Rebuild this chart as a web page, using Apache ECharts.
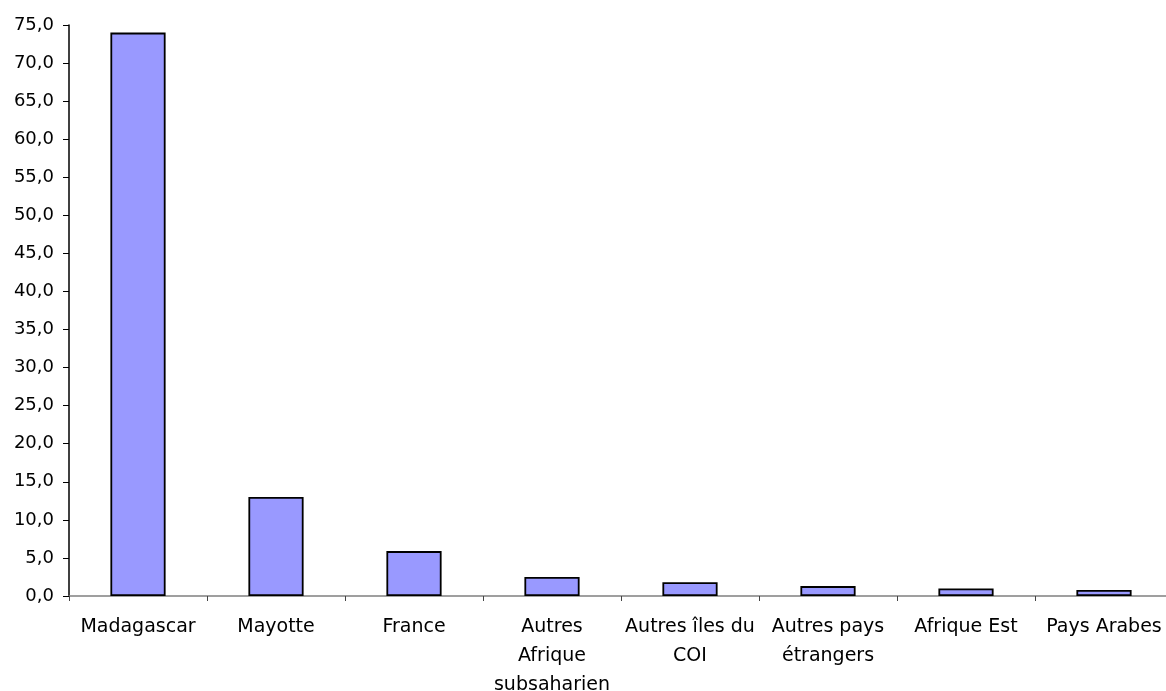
<!DOCTYPE html>
<html>
<head>
<meta charset="utf-8">
<script src="https://cdn.jsdelivr.net/npm/echarts@6/dist/echarts.min.js"></script>
<style>
html,body{margin:0;padding:0;background:#fff;}
#chart{width:1166px;height:691px;}
</style>
</head>
<body>
<div id="chart"></div>
<script>
const categories = ["Madagascar", "Mayotte", "France", "Autres\nAfrique\nsubsaharien", "Autres îles du\nCOI", "Autres pays\nétrangers", "Afrique Est", "Pays Arabes"];
const values = [74.0, 13.0, 5.9, 2.5, 1.8, 1.3, 1.0, 0.8];
const yMin = 0, yMax = 75, yStep = 5;

const chart = echarts.init(document.getElementById('chart'));
chart.setOption({
  animation: false,
  backgroundColor: '#ffffff',
  textStyle: { fontFamily: 'DejaVu Sans' },
  grid: { left: 69, top: 25, right: -7, bottom: 95, containLabel: false, outerBoundsMode: 'none' },
  xAxis: {
    type: 'category',
    data: categories,
    axisLine: { show: true, lineStyle: { color: '#808080', width: 1.5 } },
    axisTick: { show: true, alignWithLabel: false, length: 5, lineStyle: { color: '#444', width: 1 } },
    axisLabel: { color: '#000', fontSize: 19, fontFamily: 'DejaVu Sans', lineHeight: 29, margin: 17, interval: 0 },
    splitLine: { show: false }
  },
  yAxis: {
    type: 'value',
    min: yMin, max: yMax, interval: yStep,
    axisLine: { show: true, lineStyle: { color: '#000', width: 1.5 } },
    axisTick: { show: true, length: 6, lineStyle: { color: '#000', width: 1 } },
    axisLabel: { color: '#000', fontSize: 18, fontFamily: 'DejaVu Sans', margin: 15,
      formatter: v => v.toFixed(1).replace('.', ',') },
    splitLine: { show: false }
  },
  series: [{
    type: 'bar',
    data: values,
    barWidth: '40%',
    itemStyle: { color: '#9999FF', borderColor: '#000', borderWidth: 1.8 }
  }]
});
</script>
</body>
</html>
